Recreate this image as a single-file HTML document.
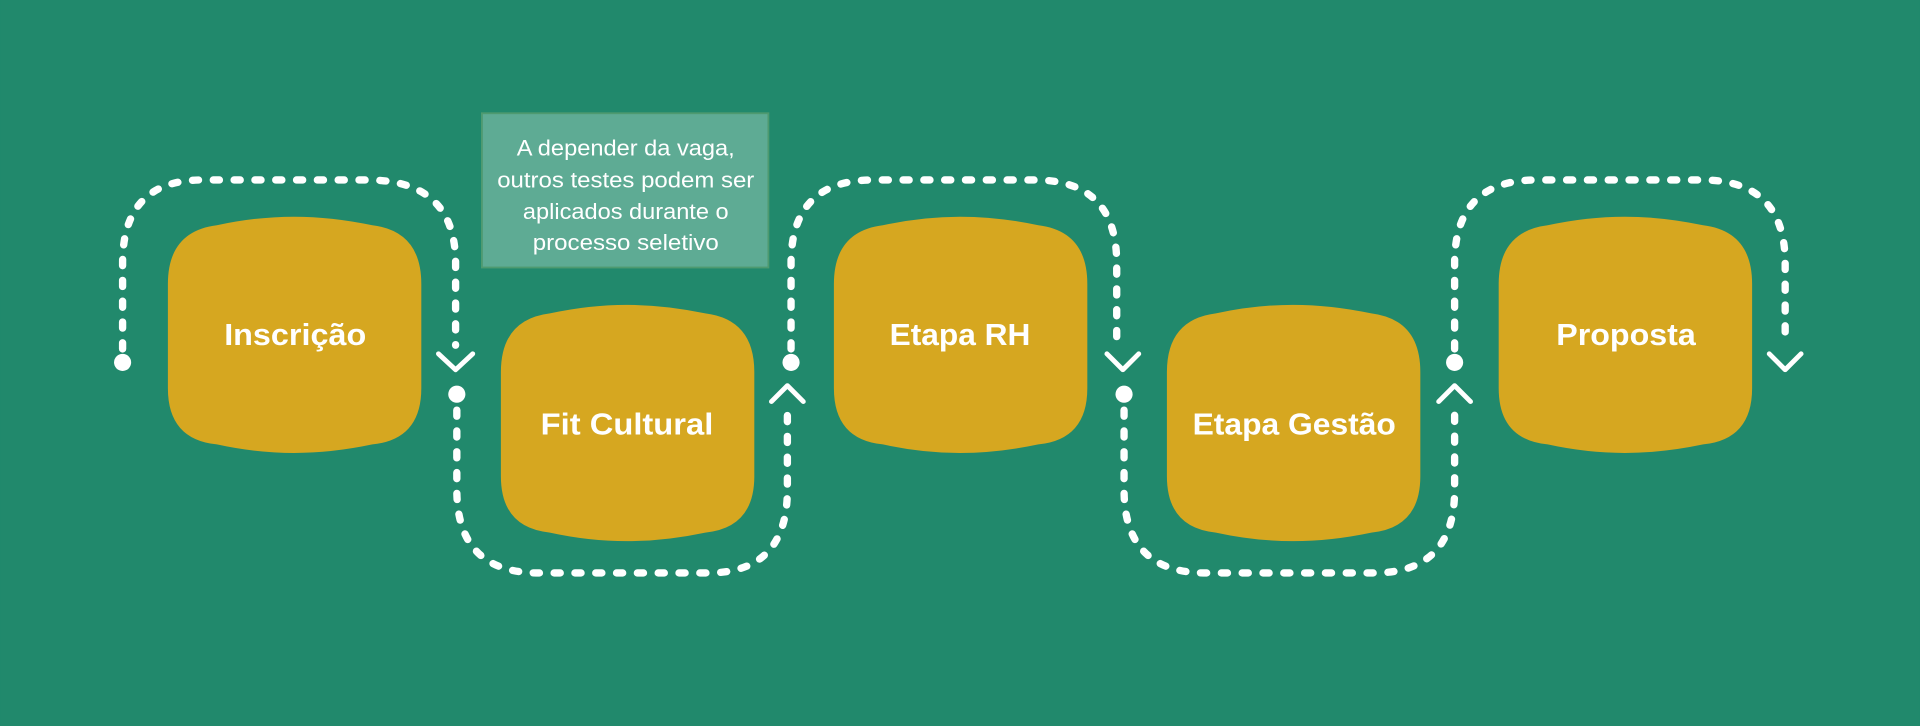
<!DOCTYPE html>
<html><head><meta charset="utf-8"><style>
html,body{margin:0;padding:0;background:#21896c;}
svg{display:block}
</style></head><body>
<svg width="1920" height="726" viewBox="0 0 1568 593" xmlns="http://www.w3.org/2000/svg">
<rect width="1568" height="593" fill="#21896c"/>
<defs>
<path id="blob" d="M0,55 Q0,12 40,7 Q72,0 103,0 Q134,0 167,7 Q207,12 207,55 L207,140 Q207,182 167,186 Q134,193 103,193 Q72,193 40,186 Q0,182 0,140 Z" fill="#d6a720"/>
</defs>
<use href="#blob" x="137" y="177"/>
<use href="#blob" x="409" y="249"/>
<use href="#blob" x="681" y="177"/>
<use href="#blob" x="953" y="249"/>
<use href="#blob" x="1224" y="177"/>
<g font-family="Liberation Sans Narrow, Liberation Sans, sans-serif" font-weight="bold" font-size="25" fill="#fff" text-anchor="middle" lengthAdjust="spacingAndGlyphs">
<text x="241" y="282" textLength="116" lengthAdjust="spacingAndGlyphs">Inscrição</text>
<text x="512" y="355" textLength="141" lengthAdjust="spacingAndGlyphs">Fit Cultural</text>
<text x="784" y="282" textLength="115" lengthAdjust="spacingAndGlyphs">Etapa RH</text>
<text x="1057" y="355" textLength="166" lengthAdjust="spacingAndGlyphs">Etapa Gestão</text>
<text x="1328" y="282" textLength="114" lengthAdjust="spacingAndGlyphs">Proposta</text>
</g>
<g fill="none" stroke="#fff" stroke-width="6" stroke-linecap="round" stroke-dasharray="5 12">
<path d="M100,285 L100,215 Q100,147 165,147 L300,147 Q372,147 372,215 L372,282"/>
<path d="M373,335 L373,400 Q373,468 440,468 L578,468 Q643,468 643,400 L643,335"/>
<path d="M646,285 L646,215 Q646,147 713,147 L845,147 Q912,147 912,215 L912,282"/>
<path d="M918,335 L918,400 Q918,468 985,468 L1122,468 Q1188,468 1188,400 L1188,335"/>
<path d="M1188,285 L1188,215 Q1188,147 1255,147 L1390,147 Q1458,147 1458,215 L1458,282"/>
</g>
<g fill="#fff">
<circle cx="100" cy="296" r="7"/><circle cx="373" cy="322" r="7"/><circle cx="646" cy="296" r="7"/><circle cx="918" cy="322" r="7"/><circle cx="1188" cy="296" r="7"/>
</g>
<g fill="none" stroke="#fff" stroke-width="4" stroke-linecap="round" stroke-linejoin="round">
<path d="M358,289 L372,302 L386,289"/>
<path d="M630,328 L643,315 L656,328"/>
<path d="M904,289 L917,302 L930,289"/>
<path d="M1175,328 L1188,315 L1201,328"/>
<path d="M1445,289 L1458,302 L1471,289"/>
</g>
<rect x="393.5" y="92.5" width="234" height="126" fill="#5eab94" stroke="#4e9a70" stroke-width="1.5"/>
<g font-family="Liberation Sans Narrow, Liberation Sans, sans-serif" font-size="18" fill="#fff" text-anchor="middle">
<text x="511" y="127" textLength="178" lengthAdjust="spacingAndGlyphs">A depender da vaga,</text>
<text x="511" y="153" textLength="210" lengthAdjust="spacingAndGlyphs">outros testes podem ser</text>
<text x="511" y="179" textLength="168" lengthAdjust="spacingAndGlyphs">aplicados durante o</text>
<text x="511" y="204" textLength="152" lengthAdjust="spacingAndGlyphs">processo seletivo</text>
</g>
</svg>
</body></html>
